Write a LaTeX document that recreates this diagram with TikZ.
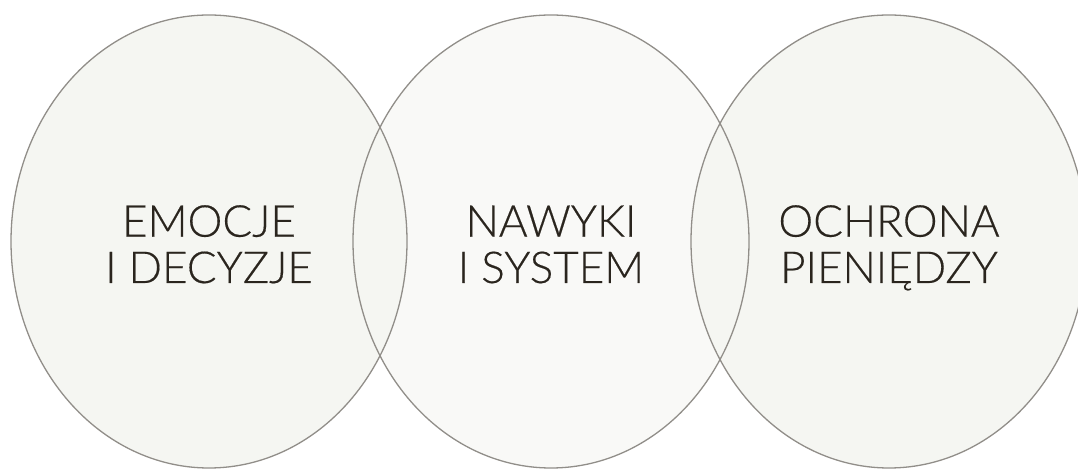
\documentclass[tikz,border=0pt]{standalone}
\usepackage{fontspec}
\setmainfont{Lato Light}
\newfontfamily\lblfont{Lato Light}[UprightFeatures={FakeBold=0.35}]
\usetikzlibrary{shapes.geometric}
\definecolor{sidefill}{RGB}{245,246,242}
\definecolor{midfill}{RGB}{249,249,247}
\definecolor{edgegray}{RGB}{145,142,137}
\definecolor{inkdark}{RGB}{42,37,30}
\tikzset{
  blob/.style={ellipse, inner sep=0pt, outer sep=0pt, minimum width=396pt, minimum height=453pt},
  rim/.style={draw=edgegray, line width=1.3pt},
  lbl/.style={text=inkdark, align=center, inner sep=0pt, anchor=base,
    font=\lblfont\fontsize{44}{46.3}\selectfont}
}
\begin{document}
\begin{tikzpicture}[x=1pt,y=1pt]
\useasboundingbox (0,0) rectangle (1078,470);
\clip (0,0) rectangle (1078,470);
% fills
\node[blob, fill=midfill] (nawyki) at (551,228.5) {};
\node[blob, fill=sidefill] (emocje) at (209,228.5) {};
\node[blob, fill=sidefill] (ochrona) at (889,228.5) {};
% outlines on top
\node[blob, rim] (nawykiR) at (nawyki.center) {};
\node[blob, rim] (emocjeR) at (emocje.center) {};
\node[blob, rim] (ochronaR) at (ochrona.center) {};
% labels (base anchor = baseline of the last line)
\node[lbl] (t1) at ([yshift=-41.5pt]emocje.center) {EMOCJE\\I DECYZJE};
\node[lbl] (t2) at ([yshift=-41.5pt]nawyki.center) {NAWYKI\\I SYSTEM};
\node[lbl] (t3) at ([yshift=-41.5pt]ochrona.center) {OCHRONA\\PIENIĘDZY};
\end{tikzpicture}
\end{document}
